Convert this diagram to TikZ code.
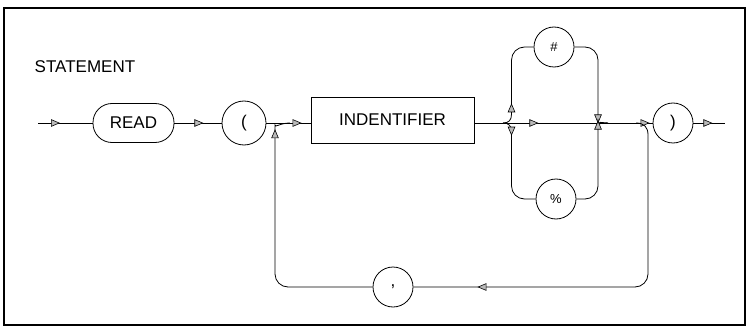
\documentclass[tikz,border=0pt]{standalone}
\usepackage{fontspec}
\setmainfont{Liberation Sans}
\usetikzlibrary{arrows.meta,decorations.markings}
\begin{document}
\begin{tikzpicture}[x=1pt,y=-1pt,
  line width=0.8pt,
  >={Triangle[length=9pt,width=7.5pt,fill=gray!55,line width=0.6pt]},
  lbl/.style={font=\fontsize{17}{20}\selectfont},
  term/.style={draw,circle,minimum size=40pt,inner sep=0pt,font=\fontsize{17}{20}\selectfont},
  small/.style={font=\fontsize{13}{15}\selectfont},
  am/.style={postaction={decorate,decoration={markings,mark=at position #1 with {\arrow{>}}}}},
  rc/.style={rounded corners=13pt}]
\useasboundingbox (0,0) rectangle (749,326);
\draw[line width=1.4pt] (4,8) rectangle (745,325);

\node[lbl,anchor=west] (title) at (31,67) {STATEMENT};
\node[draw,rounded corners=19pt,minimum width=81pt,minimum height=39pt,lbl] (read) at (133.5,123) {READ};
\node[term,minimum size=44pt] (lp) at (244,123) {(};
\node[draw,minimum width=163pt,minimum height=46pt,lbl] (ident) at (392.5,120) {INDENTIFIER};
\node[term,small] (hash) at (554,47) {\#};
\node[term,small] (pct) at (556,199) {\%};
\node[term] (comma) at (393,287) {,};
\node[term] (rp) at (673,123) {)};

\coordinate (start) at (38,123);
\coordinate (end) at (725,123);
\coordinate (j0) at (290,123);
\coordinate (j1) at (503,123);
\coordinate (j2) at (608,123);
\coordinate (j3) at (636,123);

% main line
\draw[am=22pt] (start) -- (read);
\draw[am=29pt] (read) -- (lp);
\draw[am=-9pt] (lp) -- (ident.west |- lp);
\draw[am=64pt,am=-3pt] (ident.east |- j1) -- (rp);
\draw[am=19pt] (rp) -- (end);

% upper branch (#)
\draw[am=25pt] (j1) .. controls (509,123) and (511.5,120) .. (511.5,114) [rc] -- (511.5,47) -- (hash);
\draw[am=-17pt] (hash) [rc] -- (598,47) -- (598,114) [sharp corners] .. controls (598,120) and (601,123) .. (j2);

% lower branch (%)
\draw[am=18pt] (j1) .. controls (509,123) and (511.5,126) .. (511.5,132) [rc] -- (511.5,199) -- (pct);
\draw[am=-15pt] (pct) [rc] -- (598,199) -- (598,132) [sharp corners] .. controls (598,126) and (601,123) .. (j2);

% loop back (,)
\draw[am=-64pt] (j3) .. controls (644,123) and (648,127) .. (648,135) [rc] -- (648,287) -- (comma);
\draw[am=-20pt] (comma) [rc] -- (275,287) -- (275,138) [sharp corners] .. controls (275,128) and (280,123) .. (j0);
\end{tikzpicture}
\end{document}
